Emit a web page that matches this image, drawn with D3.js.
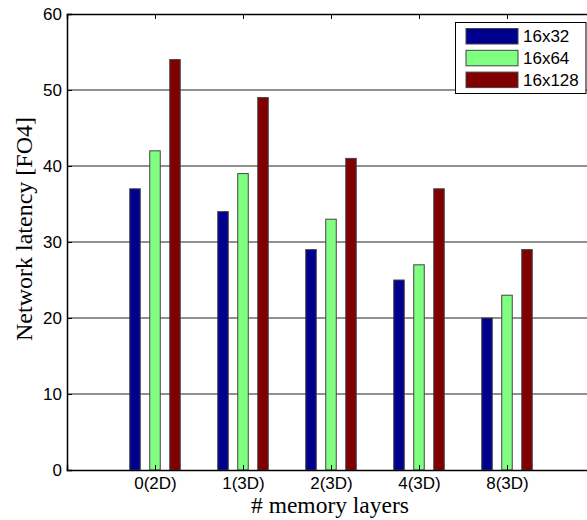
<!DOCTYPE html>
<html><head><meta charset="utf-8">
<script src="https://cdn.jsdelivr.net/npm/d3@7"></script>
<style>body{margin:0;background:#fff}svg{display:block}</style>
</head><body>
<script>
const categories = ["0(2D)", "1(3D)", "2(3D)", "4(3D)", "8(3D)"];
const seriesNames = ["16x32", "16x64", "16x128"];
const s16x32 = [37, 34, 29, 25, 20];
const s16x64 = [42, 39, 33, 27, 23];
const s16x128 = [54, 49, 41, 37, 29];
const yTicks = [0, 10, 20, 30, 40, 50, 60];
const colors = ["#00008f", "#80ff80", "#800000"];

const series = [s16x32, s16x64, s16x128];
const W = 587, H = 520;
const L = 67, T = 14, B = 470;
const svg = d3.select("body").append("svg").attr("width", W).attr("height", H);

const x = d3.scaleLinear().domain([0, categories.length + 1]).range([L, 595]);
const y = d3.scaleLinear().domain([0, 60]).range([B, T]);
const offsets = [-20, 0, 20];
const bw = 10.5;

// grid
svg.append("g").selectAll("line").data(yTicks.filter(d => d > 0 && d < 60)).join("line")
  .attr("x1", L).attr("x2", 595).attr("y1", d => y(d)).attr("y2", d => y(d))
  .attr("stroke", "#222").attr("stroke-width", 1);

// bars
series.forEach((vals, si) => {
  svg.append("g").selectAll("rect").data(vals).join("rect")
    .attr("x", (d, i) => x(i + 1) + offsets[si] - bw / 2)
    .attr("y", d => y(d))
    .attr("width", bw)
    .attr("height", d => y(0) - y(d))
    .attr("fill", colors[si])
    .attr("stroke", "#444").attr("stroke-width", 1);
});

// axes
const ff = "Liberation Sans, Arial, sans-serif";
const ax = svg.append("g");
const yAxis = d3.axisLeft(y).tickValues(yTicks).tickSize(-5).tickPadding(5);
ax.append("g").attr("transform", `translate(${L},0)`).call(yAxis)
  .call(g => g.selectAll("text").attr("font-size", 17).attr("fill", "#000").attr("font-family", ff))
  .call(g => g.selectAll("line").attr("stroke", "#000"))
  .call(g => g.select(".domain").attr("stroke", "#000").attr("stroke-width", 1.5));
const xAxis = d3.axisBottom(x).tickValues(d3.range(1, categories.length + 1))
  .tickFormat(d => categories[d - 1]).tickSize(-5).tickPadding(7);
ax.append("g").attr("transform", `translate(0,${B})`).call(xAxis)
  .call(g => g.selectAll("text").attr("font-size", 17).attr("fill", "#000").attr("font-family", ff))
  .call(g => g.selectAll("line").attr("stroke", "#000"))
  .call(g => g.select(".domain").attr("stroke", "#000").attr("stroke-width", 1.5));
// top border with inward ticks
const xTop = d3.axisTop(x).tickValues(d3.range(1, categories.length + 1)).tickFormat("").tickSize(-5);
ax.append("g").attr("transform", `translate(0,${T})`).call(xTop)
  .call(g => g.selectAll("line").attr("stroke", "#000"))
  .call(g => g.select(".domain").attr("stroke", "#000").attr("stroke-width", 1.5));

// axis titles
const sf = "Liberation Serif, Times New Roman, serif";
svg.append("text").attr("x", 330).attr("y", 513).attr("text-anchor", "middle")
  .attr("font-family", sf).attr("font-size", 23.5)
  .text("# memory layers");
svg.append("text").attr("transform", `translate(32,229) rotate(-90)`)
  .attr("text-anchor", "middle")
  .attr("font-family", sf).attr("font-size", 24)
  .text("Network latency [FO4]");

// legend
const lg = svg.append("g");
lg.append("rect").attr("x", 455.5).attr("y", 22.5).attr("width", 130.5).attr("height", 71)
  .attr("fill", "#fff").attr("stroke", "#000").attr("stroke-width", 1);
seriesNames.forEach((n, i) => {
  lg.append("rect").attr("x", 466).attr("y", 28.5 + i * 21.8).attr("width", 52).attr("height", 15.5)
    .attr("fill", colors[i]).attr("stroke", "#444");
  lg.append("text").attr("x", 523).attr("y", 42 + i * 21.8)
    .attr("font-family", ff).attr("font-size", 17).text(n);
});
</script>
</body></html>
